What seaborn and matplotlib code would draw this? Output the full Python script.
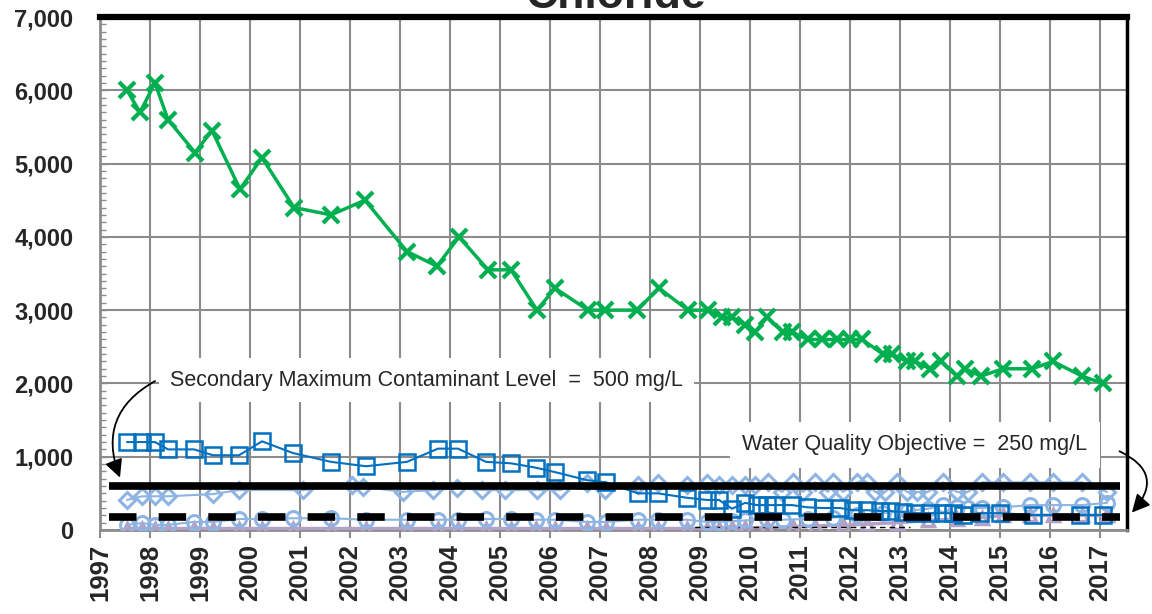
import matplotlib
matplotlib.use("Agg")
import matplotlib.pyplot as plt
import seaborn as sns
import pandas as pd
import numpy as np

# ---------------- data ----------------
green_x = [1997.54, 1997.80, 1998.10, 1998.36, 1998.90, 1999.24, 1999.80, 2000.24, 2000.88,
           2001.62, 2002.30, 2003.14, 2003.74, 2004.18, 2004.76, 2005.22, 2005.74, 2006.10,
           2006.76, 2007.10, 2007.74, 2008.18, 2008.76, 2009.16, 2009.44, 2009.64, 2009.90,
           2010.10, 2010.34, 2010.66, 2010.84, 2011.16, 2011.44, 2011.74, 2012.00, 2012.24,
           2012.66, 2012.84, 2013.14, 2013.30, 2013.60, 2013.82, 2014.14, 2014.30, 2014.62,
           2015.06, 2015.64, 2016.06, 2016.64, 2017.06]
green_y = [6000, 5700, 6100, 5600, 5150, 5450, 4650, 5080, 4400,
           4300, 4500, 3800, 3600, 4000, 3550, 3550, 3000, 3300,
           3000, 3000, 3000, 3300, 3000, 3000, 2900, 2900, 2800,
           2700, 2900, 2700, 2700, 2600, 2600, 2600, 2600, 2600,
           2400, 2400, 2300, 2300, 2200, 2300, 2100, 2200, 2100,
           2200, 2200, 2300, 2100, 2000]

square_x = [1997.54, 1997.84, 1998.10, 1998.36, 1998.88, 1999.26, 1999.78, 2000.24, 2000.86,
            2001.62, 2002.32, 2003.14, 2003.76, 2004.16, 2004.72, 2005.22, 2005.72, 2006.10,
            2006.74, 2007.12, 2007.76, 2008.16, 2008.74, 2009.14, 2009.38, 2009.64, 2009.90,
            2010.14, 2010.34, 2010.50, 2010.84, 2011.14, 2011.46, 2011.80, 2012.06, 2012.34,
            2012.60, 2012.80, 2013.06, 2013.30, 2013.60, 2013.86, 2014.06, 2014.26, 2014.60,
            2015.00, 2015.66, 2016.60, 2017.06]
square_y = [1200, 1200, 1200, 1100, 1100, 1020, 1020, 1210, 1050,
            930, 870, 930, 1110, 1110, 930, 910, 850, 790,
            680, 650, 500, 500, 440, 410, 410, 290, 370,
            340, 340, 340, 340, 310, 300, 300, 270, 270,
            260, 260, 245, 230, 230, 230, 230, 205, 230,
            230, 205, 205, 205]

diamond_x = [1997.54, 1997.84, 1998.10, 1998.36, 1999.26, 1999.78, 2001.06, 2002.04, 2002.26,
             2003.06, 2003.66, 2004.14, 2004.64, 2005.10, 2005.74, 2006.20, 2006.74, 2007.10,
             2007.76, 2008.16, 2008.74, 2009.14, 2009.38, 2009.64, 2009.90, 2010.10, 2010.36,
             2010.64, 2010.86, 2011.06, 2011.30, 2011.56, 2011.66, 2011.86, 2012.14, 2012.34,
             2012.50, 2012.70, 2012.94, 2013.14, 2013.34, 2013.56, 2013.86, 2014.14, 2014.36,
             2014.64, 2015.06, 2015.60, 2016.06, 2016.64, 2017.14]
diamond_y = [410, 460, 460, 460, 490, 545, 545, 610, 590,
             520, 545, 570, 545, 545, 545, 545, 640, 545,
             610, 640, 610, 640, 610, 610, 610, 610, 650,
             520, 650, 520, 650, 520, 650, 520, 650, 650,
             520, 520, 650, 520, 520, 520, 650, 520, 520,
             650, 650, 650, 650, 650, 520]

circle_x = [1997.54, 1997.84, 1998.10, 1998.36, 1998.88, 1999.26, 1999.78, 2000.24, 2000.86,
            2001.62, 2002.32, 2003.14, 2003.76, 2004.16, 2004.72, 2005.22, 2005.72, 2006.10,
            2006.74, 2007.12, 2007.76, 2008.16, 2008.74, 2009.14, 2009.38, 2009.64, 2009.90,
            2010.34, 2010.66, 2011.16, 2011.66, 2012.14, 2012.66, 2013.14, 2013.56, 2013.86,
            2014.14, 2014.36, 2014.64, 2015.06, 2015.60, 2016.06, 2016.64, 2017.14]
circle_y = [70, 95, 70, 70, 110, 110, 150, 150, 160,
            160, 140, 140, 140, 140, 150, 150, 140, 140,
            110, 110, 140, 140, 140, 110, 110, 120, 130,
            150, 140, 150, 170, 200, 230, 260, 290, 340,
            310, 300, 300, 310, 340, 340, 340, 370]

triangle_x = [1997.54, 1997.84, 1998.10, 1998.36, 1998.88, 1999.26, 1999.78, 2000.24, 2000.86,
              2001.62, 2002.32, 2003.14, 2003.76, 2004.16, 2004.72, 2005.22, 2005.72, 2006.10,
              2006.74, 2007.12, 2007.76, 2008.16, 2008.74, 2009.14, 2009.38, 2009.64, 2009.90,
              2010.34, 2010.86, 2011.30, 2011.86, 2012.34, 2012.94, 2013.56, 2014.14, 2014.64,
              2015.06, 2015.60, 2016.06, 2016.64, 2017.14]
triangle_y = [20, 20, 20, 20, 20, 20, 20, 20, 20,
              20, 20, 20, 20, 20, 20, 20, 20, 20,
              20, 20, 20, 20, 20, 20, 20, 25, 30,
              35, 45, 55, 65, 80, 100, 130, 150, 170,
              200, 200, 200, 200, 200]

thin_dash_x = [2008.70, 2013.20]
thin_dash_y = [40, 40]

smcl_value = 600
wqo_value = 175
limit_x = [1997.18, 2017.40]

year_ticks = list(range(1997, 2018))
y_ticks = list(range(0, 7001, 1000))

title_text = "Chloride"
smcl_label = "Secondary Maximum Contaminant Level  =  500 mg/L"
wqo_label = "Water Quality Objective =  250 mg/L"

# ---------------- style ----------------
sns.set_theme(style="white")
plt.rcParams["font.family"] = ["Liberation Sans", "DejaVu Sans"]

GREEN = "#00B050"
BLUE = "#0070C0"
LBLUE = "#8DB4E2"
PURPLE = "#B3A2C7"
GRID = "#8C8C8C"

fig = plt.figure(figsize=(11.52, 6.14), dpi=100)
ax = fig.add_axes([100 / 1152, 1 - 530 / 614, 1027 / 1152, 513 / 614])

def series(x, y):
    return pd.DataFrame({"x": x, "y": y})

sns.lineplot(data=series(triangle_x, triangle_y), x="x", y="y", ax=ax, color=PURPLE,
             marker="^", markersize=8, markerfacecolor="none", markeredgecolor=PURPLE,
             markeredgewidth=2.5, linewidth=2.5, estimator=None, sort=False, zorder=3)
sns.lineplot(data=series(thin_dash_x, thin_dash_y), x="x", y="y", ax=ax, color="black",
             linewidth=1, linestyle=(0, (4, 3)), estimator=None, sort=False, zorder=3)
sns.lineplot(data=series(circle_x, circle_y), x="x", y="y", ax=ax, color=LBLUE,
             marker="o", markersize=10, markerfacecolor="none", markeredgecolor=LBLUE,
             markeredgewidth=2.2, linewidth=1.5, estimator=None, sort=False, zorder=4)
sns.lineplot(data=series(diamond_x, diamond_y), x="x", y="y", ax=ax, color=LBLUE,
             marker="D", markersize=8, markerfacecolor="none", markeredgecolor=LBLUE,
             markeredgewidth=2.2, linewidth=1.5, estimator=None, sort=False, zorder=4)
sns.lineplot(data=series(square_x, square_y), x="x", y="y", ax=ax, color=BLUE,
             marker="s", markersize=11, markerfacecolor="none", markeredgecolor=BLUE,
             markeredgewidth=1.8, linewidth=1.5, estimator=None, sort=False, zorder=5)
sns.lineplot(data=series(green_x, green_y), x="x", y="y", ax=ax, color=GREEN,
             marker="x", markersize=12, markeredgecolor=GREEN, markeredgewidth=3,
             linewidth=2.5, estimator=None, sort=False, zorder=6)

# regulatory levels
ax.plot(limit_x, [smcl_value, smcl_value], color="black", linewidth=5.5,
        solid_capstyle="butt", zorder=7)
ax.plot(limit_x, [wqo_value, wqo_value], color="black", linewidth=5.5,
        linestyle=(0, (3.6, 2.9)), dash_capstyle="butt", zorder=7)

ax.set_xlim(1997, 2017.54)
ax.set_ylim(0, 7000)
ax.set_xticks(year_ticks)
ax.set_xticklabels([str(y) for y in year_ticks], rotation=90, fontsize=18.5, fontweight="bold")
ax.set_yticks(y_ticks)
ax.set_yticklabels([f"{v:,}" for v in y_ticks], fontsize=17, fontweight="bold")
ax.set_yticks(list(range(0, 7001, 100)), minor=True)
ax.tick_params(axis="y", which="minor", direction="in", length=4, color=GRID, width=1, left=True)
ax.tick_params(axis="y", which="major", direction="in", length=5, color=GRID, width=1, left=True, pad=19)
ax.tick_params(axis="x", which="major", direction="out", length=6, color=GRID, width=1.5, bottom=True, pad=4)
ax.set_xlabel("")
ax.set_ylabel("")
ax.grid(True, which="major", color=GRID, linewidth=1.5)
ax.set_axisbelow(True)

for side in ["left", "bottom"]:
    ax.spines[side].set_color(GRID)
    ax.spines[side].set_linewidth(2)
ax.spines["top"].set_color("black")
ax.spines["top"].set_linewidth(4.5)
ax.spines["right"].set_color("black")
ax.spines["right"].set_linewidth(2.5)

# annotations
ax.text(1998.4, 2046, smcl_label, fontsize=15.5, va="center", ha="left", zorder=8,
        bbox=dict(facecolor="white", edgecolor="none", pad=8))
ax.text(2009.84, 1160, wqo_label, fontsize=15.5, va="center", ha="left", zorder=8,
        bbox=dict(facecolor="white", edgecolor="none", pad=9))
ax.annotate("", xy=(1997.42, 680), xytext=(1998.15, 2050),
            arrowprops=dict(arrowstyle="-|>,head_length=0.9,head_width=0.45", color="black",
                            lw=1.3, connectionstyle="arc3,rad=0.45"), zorder=9)
ax.annotate("", xy=(2017.6, 210), xytext=(2017.34, 1090), annotation_clip=False,
            arrowprops=dict(arrowstyle="-|>,head_length=0.9,head_width=0.45", color="black",
                            lw=1.3, connectionstyle="arc3,rad=-0.7"), zorder=9)

fig.text(615 / 1152, 1 - 8 / 614, title_text, fontsize=32, fontweight="bold",
         ha="center", va="baseline")

fig.savefig("out.png", dpi=100)
